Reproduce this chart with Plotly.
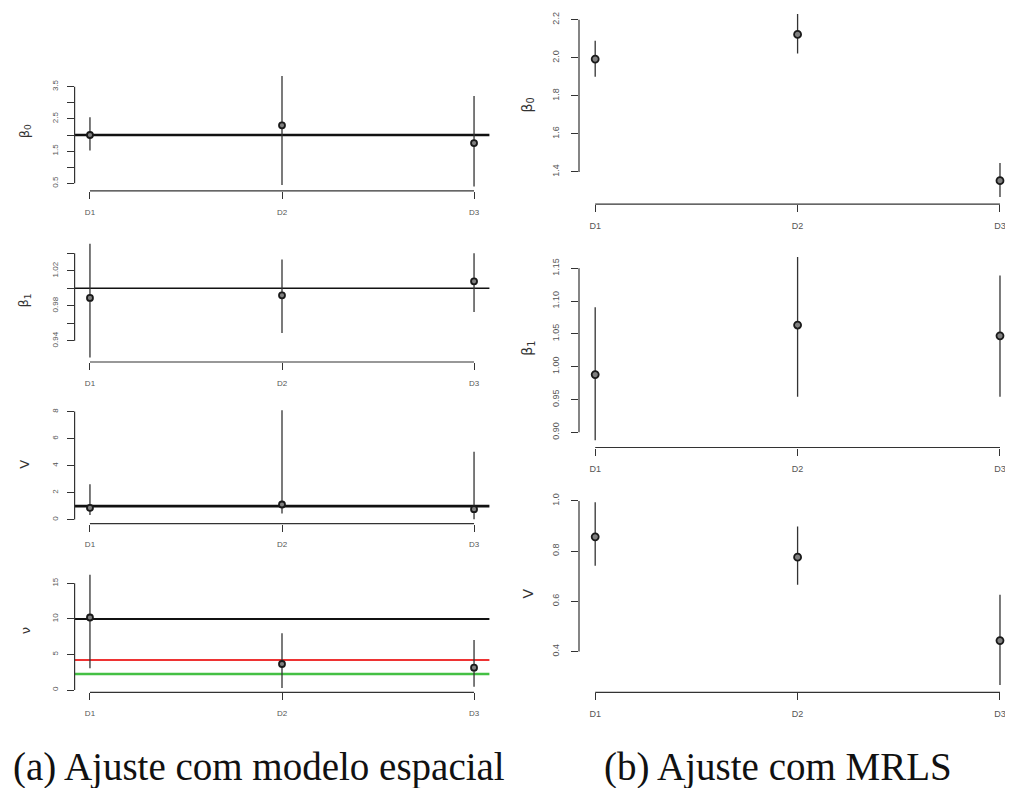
import plotly.graph_objects as go

# Screen geometry: the page body adds an 8px margin, so the figure is drawn
# 8px in from the top-left corner of the window.
OFF = 8
W, H = 1013 - OFF, 796 - 2 * OFF

categories = ["D1", "D2", "D3"]
xpos = [1, 2, 3]

# ---------------- (a) Ajuste com modelo espacial ----------------
a_b0_est = [2.00, 2.30, 1.75]
a_b0_lo = [1.52, 0.45, 0.40]
a_b0_hi = [2.55, 3.83, 3.21]
a_b0_ref = [2.0]
a_b0_ticks = [0.5, 1.5, 2.5, 3.5]
a_b0_ticktext = ["0.5", "1.5", "2.5", "3.5"]
a_b0_minor = [1.0, 2.0, 3.0]

a_b1_est = [0.989, 0.992, 1.008]
a_b1_lo = [0.921, 0.949, 0.973]
a_b1_hi = [1.051, 1.033, 1.040]
a_b1_ref = [1.0]
a_b1_ticks = [0.94, 0.98, 1.02]
a_b1_ticktext = ["0.94", "0.98", "1.02"]
a_b1_minor = [0.96, 1.00, 1.04]

a_V_est = [0.87, 1.12, 0.77]
a_V_lo = [0.35, 0.45, 0.02]
a_V_hi = [2.62, 8.10, 5.02]
a_V_ref = [1.0]
a_V_ticks = [0, 2, 4, 6, 8]
a_V_ticktext = ["0", "2", "4", "6", "8"]

a_nu_est = [10.2, 3.66, 3.14]
a_nu_lo = [3.05, 0.30, 0.45]
a_nu_hi = [16.2, 7.97, 7.03]
a_nu_ref = [10.0, 4.22, 2.25]
a_nu_ticks = [0, 5, 10, 15]
a_nu_ticktext = ["0", "5", "10", "15"]

# ---------------- (b) Ajuste com MRLS ----------------
b_b0_est = [1.993, 2.123, 1.354]
b_b0_lo = [1.900, 2.023, 1.269]
b_b0_hi = [2.089, 2.230, 1.447]
b_b0_ticks = [1.4, 1.6, 1.8, 2.0, 2.2]
b_b0_ticktext = ["1.4", "1.6", "1.8", "2.0", "2.2"]

b_b1_est = [0.988, 1.0635, 1.047]
b_b1_lo = [0.888, 0.954, 0.954]
b_b1_hi = [1.0905, 1.167, 1.139]
b_b1_ticks = [0.90, 0.95, 1.00, 1.05, 1.10, 1.15]
b_b1_ticktext = ["0.90", "0.95", "1.00", "1.05", "1.10", "1.15"]

b_V_est = [0.857, 0.776, 0.444]
b_V_lo = [0.742, 0.666, 0.267]
b_V_hi = [0.995, 0.898, 0.626]
b_V_ticks = [0.4, 0.6, 0.8, 1.0]
b_V_ticktext = ["0.4", "0.6", "0.8", "1.0"]

captions = ["(a) Ajuste com modelo espacial", "(b) Ajuste com MRLS"]

# ---------------- layout specification (screen pixels) ----------------
left_x_px = (74.6, 489.4)
right_x_px = (579.0, 1013.0)
right_px_per_unit = 202.4
right_x_end = 0.92 + (right_x_px[1] - right_x_px[0]) / right_px_per_unit

ref_colors = ["#111111", "#ee3333", "#44c044"]

panels = [
    dict(est=a_b0_est, lo=a_b0_lo, hi=a_b0_hi, ref=a_b0_ref, ticks=a_b0_ticks, ttext=a_b0_ticktext,
         minor=a_b0_minor, title="β<sub>0</sub>", col="L", ypx=(71.7, 190.9), refw=[2.6]),
    dict(est=a_b1_est, lo=a_b1_lo, hi=a_b1_hi, ref=a_b1_ref, ticks=a_b1_ticks, ttext=a_b1_ticktext,
         minor=a_b1_minor, title="β<sub>1</sub>", col="L", ypx=(239.1, 362.0), refw=[1.6]),
    dict(est=a_V_est, lo=a_V_lo, hi=a_V_hi, ref=a_V_ref, ticks=a_V_ticks, ttext=a_V_ticktext,
         minor=[], title="V", col="L", ypx=(405.9, 523.7), refw=[2.6]),
    dict(est=a_nu_est, lo=a_nu_lo, hi=a_nu_hi, ref=a_nu_ref, ticks=a_nu_ticks, ttext=a_nu_ticktext,
         minor=[], title="ν", col="L", ypx=(570.3, 692.4), refw=[2.0, 1.8, 2.6]),
    dict(est=b_b0_est, lo=b_b0_lo, hi=b_b0_hi, ref=[], ticks=b_b0_ticks, ttext=b_b0_ticktext,
         minor=[], title="β<sub>0</sub>", col="R", ypx=(6.7, 204.2), refw=[]),
    dict(est=b_b1_est, lo=b_b1_lo, hi=b_b1_hi, ref=[], ticks=b_b1_ticks, ttext=b_b1_ticktext,
         minor=[], title="β<sub>1</sub>", col="R", ypx=(249.8, 447.5), refw=[]),
    dict(est=b_V_est, lo=b_V_lo, hi=b_V_hi, ref=[], ticks=b_V_ticks, ttext=b_V_ticktext,
         minor=[], title="V", col="R", ypx=(494.9, 692.3), refw=[]),
]


def fx(px):
    return (px - OFF) / W


def fy(px):
    return 1 - (px - OFF) / H


fig = go.Figure()
shapes = []
annotations = []
layout_axes = {}

for i, p in enumerate(panels, start=1):
    xa = "x" if i == 1 else f"x{i}"
    ya = "y" if i == 1 else f"y{i}"
    xkey = "xaxis" if i == 1 else f"xaxis{i}"
    ykey = "yaxis" if i == 1 else f"yaxis{i}"
    left = p["col"] == "L"

    ymin, ymax = min(p["lo"]), max(p["hi"])
    pad = 0.04 * (ymax - ymin)
    yr = [ymin - pad, ymax + pad]
    top_px, bot_px = p["ypx"]
    if top_px < OFF:  # region above the visible window: trim range to keep the scale
        per_px = (yr[1] - yr[0]) / (bot_px - top_px)
        yr[1] -= (OFF - top_px) * per_px
        top_px = OFF
    xr = [0.92, 3.08] if left else [0.92, right_x_end]
    xpx = left_x_px if left else right_x_px

    fig.add_trace(go.Scatter(
        x=xpos, y=p["est"], xaxis=xa, yaxis=ya, mode="markers", cliponaxis=False,
        marker=dict(symbol="circle", size=6 if left else 7, color="#808080",
                    line=dict(color="#1a1a1a", width=1.8)),
        error_y=dict(type="data", symmetric=False,
                     array=[h - e for h, e in zip(p["hi"], p["est"])],
                     arrayminus=[e - l for e, l in zip(p["est"], p["lo"])],
                     color="#333333", thickness=1.3, width=0),
        showlegend=False, hoverinfo="skip"))

    tick_font = dict(family="Liberation Sans, Arial, sans-serif", size=8 if left else 9, color="#555555")
    layout_axes[xkey] = dict(
        domain=[fx(xpx[0]), min(1.0, fx(xpx[1]))], range=xr, anchor=ya,
        tickvals=xpos, ticktext=categories, ticks="outside", ticklen=7, tickwidth=1,
        tickcolor="#333333", showline=False, showgrid=False, zeroline=False,
        tickfont=tick_font, ticklabelstandoff=6)
    ydict = dict(
        domain=[fy(bot_px), min(1.0, fy(top_px))], range=yr, anchor=xa,
        tickvals=p["ticks"], ticktext=p["ttext"], ticks="outside", ticklen=7, tickwidth=1,
        tickcolor="#333333", showline=False, showgrid=False, zeroline=False,
        tickangle=-90, tickfont=tick_font, ticklabelstandoff=5 if left else 8)
    if p["minor"]:
        ydict["minor"] = dict(tickmode="array", tickvals=p["minor"], ticks="outside",
                              ticklen=7, tickwidth=1, tickcolor="#333333", showgrid=False)
    layout_axes[ykey] = ydict

    all_ticks = sorted(list(p["ticks"]) + list(p["minor"]))
    # axis lines spanning first to last tick (R style)
    shapes.append(dict(type="line", xref=xa, yref=f"{ya} domain", x0=xpos[0], x1=xpos[-1],
                       y0=0, y1=0, line=dict(color="#333333", width=1.2)))
    shapes.append(dict(type="line", xref=f"{xa} domain", yref=ya, x0=0, x1=0,
                       y0=all_ticks[0], y1=all_ticks[-1], line=dict(color="#333333", width=1.2)))
    # reference lines
    for k, v in enumerate(p["ref"]):
        shapes.append(dict(type="line", xref=f"{xa} domain", yref=ya, x0=0, x1=1, y0=v, y1=v,
                           line=dict(color=ref_colors[k], width=p["refw"][k]), layer="below"))
    # y-axis title
    tx = 25 if left else 528
    annotations.append(dict(text=p["title"], textangle=-90, xref="paper", yref="paper",
                            x=fx(tx), y=fy((p["ypx"][0] + p["ypx"][1]) / 2),
                            xanchor="center", yanchor="middle", showarrow=False,
                            font=dict(family="DejaVu Sans, sans-serif", size=13 if left else 14,
                                      color="#333333")))

cap_font = dict(family="Liberation Serif, Times New Roman, serif", size=39, color="#111111")
annotations.append(dict(text=captions[0], xref="paper", yref="paper", x=fx(259), y=fy(767),
                        xanchor="center", yanchor="middle", showarrow=False, font=cap_font))
annotations.append(dict(text=captions[1], xref="paper", yref="paper", x=fx(778), y=fy(767),
                        xanchor="center", yanchor="middle", showarrow=False, font=cap_font))

fig.update_layout(
    template="none",
    width=W, height=H, margin=dict(l=0, r=0, t=0, b=0, pad=0),
    paper_bgcolor="white", plot_bgcolor="white",
    shapes=shapes, annotations=annotations, showlegend=False,
    **layout_axes)

fig.write_html("out.html")
